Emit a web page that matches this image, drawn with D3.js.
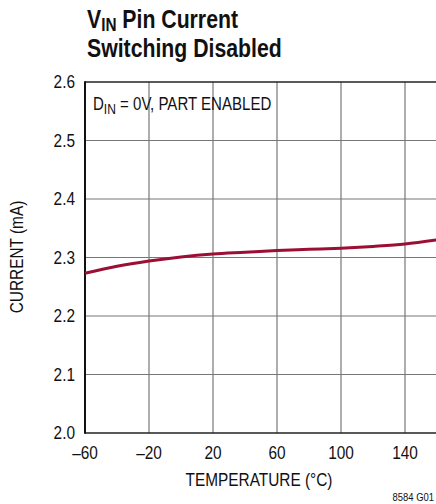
<!DOCTYPE html>
<html><head><meta charset="utf-8">
<script src="https://cdn.jsdelivr.net/npm/d3@7"></script>
<style>body{margin:0;background:#fff}svg{display:block}text{font-family:"Liberation Sans","Arial",sans-serif;fill:#111}</style>
</head><body>
<script>
const temps = [-60, -40, -20, 0, 20, 40, 60, 80, 100, 120, 140, 160];
const current = [2.273, 2.285, 2.294, 2.301, 2.306, 2.309, 2.312, 2.314, 2.316, 2.319, 2.323, 2.330];
const xTicks = [-60, -20, 20, 60, 100, 140];
const yTicks = [2.0, 2.1, 2.2, 2.3, 2.4, 2.5, 2.6];

const W = 436, H = 504;
const SX = 0.88;
const svg = d3.select("body").append("svg").attr("width", W).attr("height", H);
const x = d3.scaleLinear().domain([-60, 160]).range([85, 437]);
const y = d3.scaleLinear().domain([2.0, 2.6]).range([433, 82]);

function txt(px, py, sx, rot) {
  return svg.append("text")
    .attr("transform", `translate(${px},${py})` + (rot ? ` rotate(${rot})` : "") + ` scale(${sx},1)`);
}

// grid
svg.append("g").selectAll("line").data(xTicks.slice(1)).join("line")
  .attr("x1", d => x(d)).attr("x2", d => x(d)).attr("y1", y(2.6)).attr("y2", y(2.0))
  .attr("stroke", "#777").attr("stroke-width", 1.2);
svg.append("g").selectAll("line").data(yTicks.slice(1, -1)).join("line")
  .attr("x1", x(-60)).attr("x2", W).attr("y1", d => y(d)).attr("y2", d => y(d))
  .attr("stroke", "#777").attr("stroke-width", 1.2);
// frame
svg.append("line").attr("x1", x(-60)).attr("x2", W).attr("y1", y(2.6)).attr("y2", y(2.6)).attr("stroke", "#222").attr("stroke-width", 1.6);
svg.append("line").attr("x1", x(-60)).attr("x2", W).attr("y1", y(2.0)).attr("y2", y(2.0)).attr("stroke", "#222").attr("stroke-width", 1.6);
svg.append("line").attr("x1", x(-60)).attr("x2", x(-60)).attr("y1", y(2.6) - 0.8).attr("y2", y(2.0) + 0.8).attr("stroke", "#111").attr("stroke-width", 2);

// curve
svg.append("path").datum(temps.map((t, i) => [t, current[i]]))
  .attr("d", d3.line().x(d => x(d[0])).y(d => y(d[1])).curve(d3.curveMonotoneX))
  .attr("fill", "none").attr("stroke", "#9b0f35").attr("stroke-width", 3);

// y tick labels
yTicks.forEach(d => {
  txt(75, y(d) + 6, SX).attr("text-anchor", "end").attr("font-size", 17.5).text(d.toFixed(1));
});
// x tick labels
xTicks.forEach(d => {
  txt(x(d), 459, SX).attr("text-anchor", "middle").attr("font-size", 17.5)
    .text(d < 0 ? "\u2013" + Math.abs(d) : d);
});

// axis titles
txt(259, 486, SX).attr("text-anchor", "middle").attr("font-size", 17.5).text("TEMPERATURE (°C)");
txt(23, 257, SX, -90).attr("text-anchor", "middle").attr("font-size", 17.5).text("CURRENT (mA)");

// annotation
const ann = txt(93, 110, 0.86).attr("font-size", 17.5);
ann.append("tspan").text("D");
ann.append("tspan").attr("dy", 4).attr("font-size", 14).text("IN");
ann.append("tspan").attr("dy", -4).text(" = 0V, PART ENABLED");

// title
const t1 = txt(87, 28, 0.85).attr("font-size", 25).attr("font-weight", "bold");
t1.append("tspan").text("V");
t1.append("tspan").attr("dy", 3).attr("font-size", 18).text("IN");
t1.append("tspan").attr("dy", -3).text(" Pin Current");
txt(87, 57, 0.85).attr("font-size", 25).attr("font-weight", "bold").text("Switching Disabled");

txt(434, 501, 0.9).attr("text-anchor", "end").attr("font-size", 10.5).text("8584 G01");
</script>
</body></html>
